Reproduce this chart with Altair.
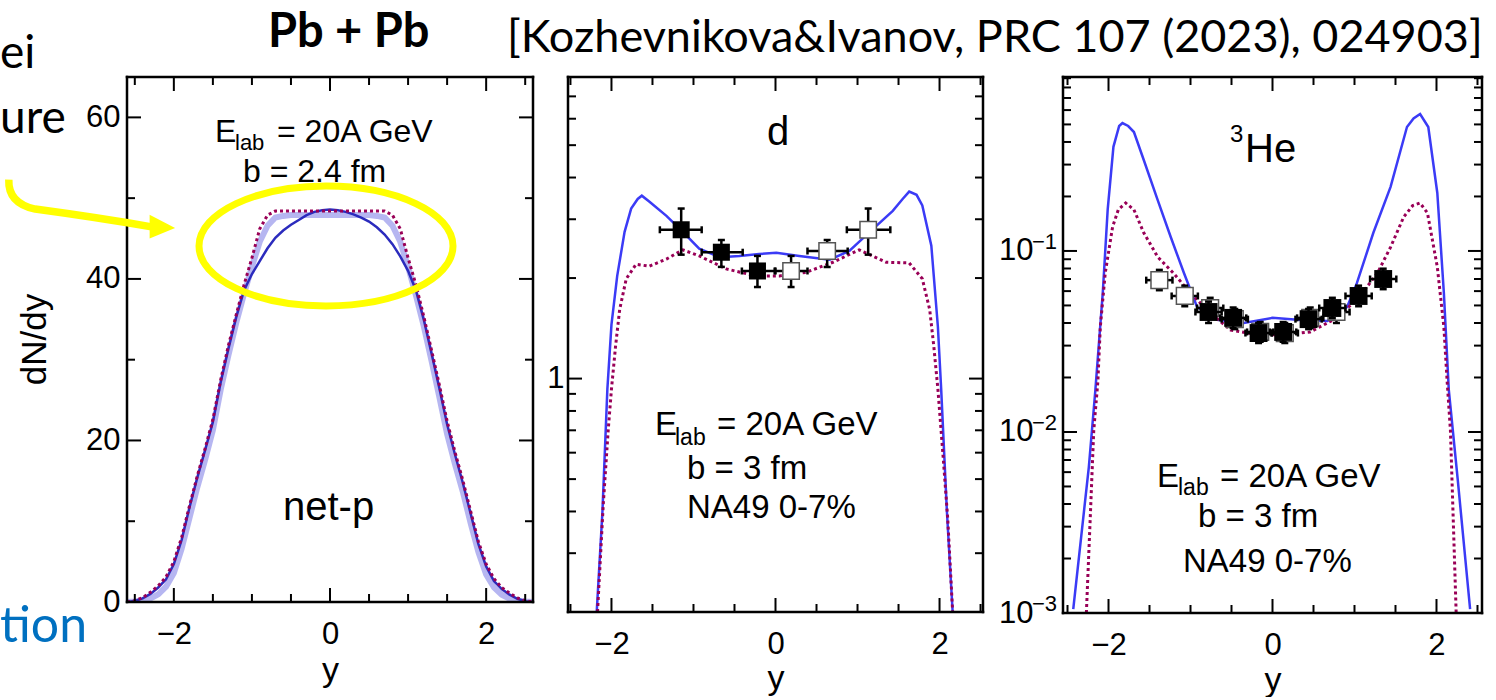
import altair as alt
import pandas as pd

FONT = "Liberation Sans"
SLIDE_FONT = "Lato"
BLUE_DARK = "#2b2bbd"
BLUE = "#3b3bf6"
PURPLE = "#990057"
BAND = "#a9a9ee"
YELLOW = "#ffff00"
SLIDE_BLUE = "#0070c0"

# ---------------- panel 1: net-p (linear) ----------------
p1_x = [-2.6, -2.5, -2.4, -2.3, -2.2, -2.1, -2.0, -1.9, -1.8, -1.7, -1.6, -1.5, -1.4, -1.3,
        -1.2, -1.1, -1.0, -0.9, -0.8, -0.7, -0.6, -0.5, -0.4, -0.3, -0.2, -0.1, 0.0,
        0.1, 0.2, 0.3, 0.4, 0.5, 0.6, 0.7, 0.8, 0.9, 1.0, 1.1, 1.2, 1.3, 1.4, 1.5, 1.6,
        1.7, 1.8, 1.9, 2.0, 2.1, 2.2, 2.3, 2.4, 2.5, 2.6]
p1_solid = [0.0, 0.12, 0.45, 1.0, 1.8, 2.8, 4.7, 7.7, 11.7, 15.4, 18.8, 22.3, 27.2, 31.4,
            35.3, 38.6, 40.6, 42.2, 43.8, 45.1, 46.0, 46.7, 47.3, 47.9, 48.3, 48.5, 48.6,
            48.5, 48.3, 48.0, 47.6, 47.1, 46.4, 45.5, 44.3, 42.8, 41.0, 38.6, 35.0, 30.8,
            26.5, 22.0, 18.3, 14.8, 11.0, 7.2, 4.4, 2.6, 1.6, 0.9, 0.4, 0.1, 0.0]
p1_dotted = [0.0, 0.15, 0.55, 1.2, 2.0, 3.1, 5.0, 8.0, 11.9, 15.6, 19.0, 22.6, 27.5, 31.8,
             35.6, 39.3, 42.6, 46.2, 47.9, 48.4, 48.4, 48.4, 48.4, 48.4, 48.4, 48.4, 48.4,
             48.4, 48.4, 48.4, 48.4, 48.4, 48.4, 48.4, 47.9, 46.2, 42.6, 39.3, 35.4, 31.2,
             26.9, 22.4, 18.6, 15.1, 11.3, 7.5, 4.7, 2.9, 1.8, 1.1, 0.5, 0.15, 0.0]
p1_band = [0.0, 0.05, 0.15, 0.45, 0.95, 1.9, 3.6, 6.6, 10.4, 14.2, 17.6, 21.3, 26.3, 30.6,
           34.6, 38.2, 41.5, 44.6, 46.6, 47.6, 47.8, 47.9, 47.9, 47.9, 47.9, 47.9, 47.9,
           47.9, 47.9, 47.9, 47.9, 47.9, 47.8, 47.6, 46.6, 44.6, 41.5, 38.0, 34.2, 29.9,
           25.4, 20.8, 17.1, 13.7, 9.8, 6.2, 3.4, 1.8, 0.9, 0.4, 0.15, 0.05, 0.0]

# ---------------- panel 2: d (log) ----------------
d_x = [-2.18, -2.11, -2.05, -2.00, -1.93, -1.84, -1.76, -1.68, -1.63, -1.54, -1.33, -1.13,
       -0.93, -0.68, -0.44, -0.20, 0.01, 0.29, 0.66, 0.90, 1.15, 1.43, 1.55, 1.63, 1.72,
       1.79, 1.90, 1.98, 2.02, 2.09, 2.16]
d_solid = [0.20, 0.40, 0.93, 1.45, 2.03, 2.75, 3.23, 3.45, 3.53, 3.39, 3.07, 2.75, 2.45,
           2.31, 2.33, 2.36, 2.38, 2.33, 2.27, 2.41, 2.75, 3.18, 3.45, 3.63, 3.55, 3.30,
           2.50, 1.43, 0.93, 0.40, 0.20]
d_dot_x = [-2.17, -2.10, -2.04, -2.00, -1.95, -1.90, -1.82, -1.70, -1.54, -1.33, -1.13,
           -0.93, -0.60, -0.24, 0.05, 0.37, 0.70, 1.02, 1.35, 1.63, 1.79, 1.88, 1.93, 1.98,
           2.04, 2.10, 2.16]
d_dotted = [0.20, 0.42, 0.70, 0.93, 1.25, 1.61, 1.99, 2.20, 2.17, 2.28, 2.43, 2.33, 2.13,
            2.03, 2.03, 2.08, 2.23, 2.43, 2.23, 2.22, 1.99, 1.61, 1.25, 0.93, 0.60, 0.38, 0.20]
d_fill_x = [-1.15, -0.66, -0.22]
d_fill_v = [2.79, 2.39, 2.10]
d_fill_lo = [2.35, 2.16, 1.88]
d_fill_hi = [3.23, 2.60, 2.33]
d_fill_xlo = [-1.41, -0.90, -0.41]
d_fill_xhi = [-0.90, -0.40, -0.01]
d_open_x = [0.19, 0.63, 1.13]
d_open_v = [2.10, 2.41, 2.79]
d_open_lo = [1.88, 2.16, 2.35]
d_open_hi = [2.33, 2.60, 3.23]
d_open_xlo = [0.00, 0.39, 0.87]
d_open_xhi = [0.39, 0.88, 1.40]

# ---------------- panel 3: 3He (log) ----------------
he_x = [-2.43, -2.24, -2.16, -2.07, -2.01, -1.94, -1.87, -1.83, -1.76, -1.69, -1.57, -1.40,
        -1.24, -1.08, -0.92, -0.67, -0.35, 0.00, 0.34, 0.67, 0.91, 1.03, 1.23, 1.44, 1.64,
        1.72, 1.80, 1.90, 2.01, 2.09, 2.15, 2.26, 2.41]
he_solid = [0.00105, 0.0064, 0.0171, 0.0586, 0.169, 0.376, 0.49, 0.509, 0.49, 0.454, 0.318,
            0.191, 0.119, 0.0755, 0.049, 0.0416, 0.040, 0.0427, 0.0416, 0.041, 0.049, 0.0666,
            0.126, 0.226, 0.484, 0.54, 0.571, 0.484, 0.209, 0.0586, 0.0171, 0.0054, 0.00105]
he_dot_x = [-2.27, -2.22, -2.18, -2.13, -2.10, -2.04, -1.95, -1.88, -1.79, -1.69, -1.57,
            -1.40, -1.21, -1.00, -0.76, -0.51, -0.18, 0.13, 0.46, 0.74, 1.03, 1.28, 1.44,
            1.60, 1.71, 1.80, 1.89, 2.01, 2.09, 2.13, 2.17, 2.24]
he_dotted = [0.001, 0.0036, 0.0102, 0.019, 0.038, 0.0755, 0.136, 0.169, 0.184, 0.169, 0.126,
             0.0927, 0.0755, 0.0586, 0.0454, 0.0366, 0.0344, 0.0344, 0.0357, 0.0416, 0.0536,
             0.0755, 0.105, 0.154, 0.178, 0.184, 0.162, 0.0816, 0.038, 0.019, 0.0102, 0.001]
he_fill_x = [-0.78, -0.48, -0.17, 0.13, 0.44, 0.73, 1.05, 1.35]
he_fill_v = [0.046, 0.0427, 0.0352, 0.0357, 0.042, 0.0484, 0.0564, 0.070]
he_fill_lo = [0.040, 0.0375, 0.031, 0.0315, 0.037, 0.0425, 0.0495, 0.0615]
he_fill_hi = [0.0525, 0.0487, 0.040, 0.0405, 0.0478, 0.0551, 0.0643, 0.0798]
he_open_x = [-1.38, -1.07, -0.76, -0.46, -0.15, 0.15, 0.46, 0.78]
he_open_v = [0.069, 0.0564, 0.0484, 0.042, 0.0357, 0.0352, 0.0427, 0.046]
he_open_lo = [0.0607, 0.0495, 0.0425, 0.037, 0.0315, 0.031, 0.0375, 0.040]
he_open_hi = [0.0786, 0.0643, 0.0551, 0.0478, 0.0405, 0.040, 0.0487, 0.0525]
HE_XERR = 0.16

# ---------------- ticks / labels ----------------
X_MAJOR = [-2, 0, 2]
X_MINOR = [-2.5, -1.5, -1.0, -0.5, 0.5, 1.0, 1.5, 2.5]
P1_Y_MAJOR = [0, 20, 40, 60]
P1_Y_MINOR = [10, 30, 50]
P2_Y_MAJOR = [1]
P2_Y_MINOR = [0.3, 0.4, 0.5, 0.6, 0.7, 0.8, 0.9, 2, 3, 4, 5, 6, 7]
P3_Y_LABELS = [0.001, 0.01, 0.1]
P3_Y_MAJOR = [0.01, 0.1]
P3_Y_MINOR = [0.002, 0.003, 0.004, 0.005, 0.006, 0.007, 0.008, 0.009,
              0.02, 0.03, 0.04, 0.05, 0.06, 0.07, 0.08, 0.09,
              0.2, 0.3, 0.4, 0.5, 0.6, 0.7, 0.8, 0.9]
P3_EXPONENTS = ["\u22121", "\u22122", "\u22123"]
P3_EXP_AT = [0.1, 0.01, 0.001]

TITLE_MAIN = "Pb + Pb"
CITATION = "[Kozhevnikova&Ivanov, PRC 107 (2023), 024903]"
SIDE_WORDS = ["ei", "ure", "tion"]

ONE = pd.DataFrame({"k": [0]})

ELLIPSE = ("M 1 0 C 1 0.2607 0.5523 0.472 0 0.472 C -0.5523 0.472 -1 0.2607 -1 0 "
           "C -1 -0.2607 -0.5523 -0.472 0 -0.472 C 0.5523 -0.472 1 -0.2607 1 0 Z")
ARROW_BODY = "M -0.90 -0.30 Q -0.91 -0.03 -0.6 0.035 Q 0.1 0.13 0.74 0.24"
ARROW_HEAD = "M 0.70 0.10 L 0.99 0.25 L 0.70 0.37 Z"


class Enc:
    """Encoders sharing one scale + one axis per panel."""

    def __init__(self, xs, ys, xaxis, yaxis):
        self.xs, self.ys, self.xaxis, self.yaxis = xs, ys, xaxis, yaxis

    def X(self, f):
        return alt.X(f, scale=self.xs, axis=self.xaxis)

    def Y(self, f):
        return alt.Y(f, scale=self.ys, axis=self.yaxis)


def curve(e, x, v, color, width, dash=None, opacity=1.0):
    df = pd.DataFrame({"x": x, "v": v})
    kw = dict(color=color, strokeWidth=width, clip=True, opacity=opacity)
    if dash is not None:
        kw["strokeDash"] = dash
    return alt.Chart(df).mark_line(**kw).encode(x=e.X("x:Q"), y=e.Y("v:Q"))


def xticks(e, vals, length, H):
    df = pd.DataFrame({"x": vals})
    base = alt.Chart(df).mark_rule(color="black", strokeWidth=2)
    return [base.encode(x=e.X("x:Q"), y=alt.value(0), y2=alt.value(length)),
            base.encode(x=e.X("x:Q"), y=alt.value(H), y2=alt.value(H - length))]


def yticks(e, vals, length, W):
    df = pd.DataFrame({"v": vals})
    base = alt.Chart(df).mark_rule(color="black", strokeWidth=2)
    return [base.encode(y=e.Y("v:Q"), x=alt.value(0), x2=alt.value(length)),
            base.encode(y=e.Y("v:Q"), x=alt.value(W), x2=alt.value(W - length))]


def frame(W, H):
    base = alt.Chart(ONE).mark_rule(color="black", strokeWidth=2.5, strokeCap="square")
    return [base.encode(x=alt.value(0), x2=alt.value(W), y=alt.value(0)),
            base.encode(x=alt.value(0), x2=alt.value(W), y=alt.value(H)),
            base.encode(x=alt.value(0), y=alt.value(0), y2=alt.value(H)),
            base.encode(x=alt.value(W), y=alt.value(0), y2=alt.value(H))]


def text(s, x, y, size, font=FONT, weight="normal", color="black", align="left"):
    return alt.Chart(ONE).mark_text(
        text=s, align=align, baseline="alphabetic", fontSize=size, font=font,
        fontWeight=weight, color=color,
    ).encode(x=alt.value(x), y=alt.value(y))


def data_points(e, x, v, lo, hi, xlo, xhi, filled, size):
    df = pd.DataFrame({"x": x, "v": v, "lo": lo, "hi": hi, "xlo": xlo, "xhi": xhi})
    c = alt.Chart(df)
    tick = dict(size=7, thickness=2.5, color="black", opacity=1)
    layers = [
        c.mark_rule(color="black", strokeWidth=2.5).encode(x=e.X("x:Q"), y=e.Y("lo:Q"), y2="hi:Q"),
        c.mark_rule(color="black", strokeWidth=2.5).encode(x=e.X("xlo:Q"), x2="xhi:Q", y=e.Y("v:Q")),
        c.mark_tick(orient="horizontal", **tick).encode(x=e.X("x:Q"), y=e.Y("lo:Q")),
        c.mark_tick(orient="horizontal", **tick).encode(x=e.X("x:Q"), y=e.Y("hi:Q")),
        c.mark_tick(orient="vertical", **tick).encode(x=e.X("xlo:Q"), y=e.Y("v:Q")),
        c.mark_tick(orient="vertical", **tick).encode(x=e.X("xhi:Q"), y=e.Y("v:Q")),
    ]
    if filled:
        layers.append(c.mark_square(size=size, color="black", opacity=1).encode(
            x=e.X("x:Q"), y=e.Y("v:Q")))
    else:
        layers.append(c.mark_square(size=size, fill="white", stroke="#555555",
                                    strokeWidth=1.5, opacity=1).encode(
            x=e.X("x:Q"), y=e.Y("v:Q")))
    return layers


def x_axis(title_y):
    return alt.Axis(values=X_MAJOR, ticks=False, tickSize=0, domain=False, grid=False,
                    labelFontSize=31, labelPadding=41, labelBaseline="alphabetic",
                    title="y", titleFontSize=34, titleFontWeight="normal",
                    titleBaseline="alphabetic", titleY=title_y)


# ================= panel 1 =================
W1, H1 = 406, 525
e1 = Enc(
    alt.Scale(domain=[-2.6, 2.6], nice=False, zero=False),
    alt.Scale(domain=[0, 65], nice=False),
    x_axis(78),
    alt.Axis(values=P1_Y_MAJOR, ticks=False, tickSize=0, domain=False, grid=False,
             labelFontSize=31, labelPadding=7, format="d",
             title="dN/dy", titleFontSize=35, titleFontWeight="normal",
             titleX=-75, titleY=262),
)

p1_layers = [
    curve(e1, p1_x, p1_band, BAND, 6, opacity=0.85),
    curve(e1, p1_x, p1_solid, BLUE_DARK, 2.5),
    curve(e1, p1_x, p1_dotted, PURPLE, 3, dash=[3, 3]),
]
p1_layers += xticks(e1, X_MAJOR, 14, H1) + xticks(e1, X_MINOR, 8, H1)
p1_layers += yticks(e1, P1_Y_MAJOR, 14, W1) + yticks(e1, P1_Y_MINOR, 8, W1)
p1_layers += frame(W1, H1)
p1_layers += [
    text("E", 88, 65, 32),
    text("lab", 108, 73, 22),
    text("= 20A GeV", 150, 65, 32),
    text("b = 2.4 fm", 116, 105, 32),
    text("net-p", 156, 443, 40),
    alt.Chart(ONE).mark_point(shape=ELLIPSE, size=64516, filled=False, stroke=YELLOW,
                              strokeWidth=7, strokeJoin="round", opacity=1).encode(
        x=alt.value(199), y=alt.value(169)),
    alt.Chart(ONE).mark_point(shape=ARROW_BODY, size=30976, filled=False, stroke=YELLOW,
                              strokeWidth=7.5, strokeJoin="round", strokeCap="butt",
                              opacity=1).encode(x=alt.value(-39), y=alt.value(129)),
    alt.Chart(ONE).mark_point(shape=ARROW_HEAD, size=30976, filled=True, color=YELLOW,
                              opacity=1).encode(x=alt.value(-39), y=alt.value(129)),
    text(TITLE_MAIN, 141, -30, 47, font=SLIDE_FONT, weight="bold"),
    text(CITATION, 380, -25, 45, font=SLIDE_FONT),
    text(SIDE_WORDS[0], -127, -9, 46, font=SLIDE_FONT),
    text(SIDE_WORDS[1], -127, 56, 46, font=SLIDE_FONT),
    text(SIDE_WORDS[2], -127, 565, 50, font=SLIDE_FONT, color=SLIDE_BLUE),
    alt.Chart(ONE).mark_point(size=1, filled=True, color="white", opacity=1).encode(
        x=alt.value(-126.5), y=alt.value(-76.5)),
]
p1 = alt.layer(*p1_layers).properties(width=W1, height=H1)

# ================= panel 2 =================
W2, H2, LAY2 = 415, 535, 460
e2 = Enc(
    alt.Scale(domain=[-2.53, 2.53], range=[0, W2], nice=False, zero=False),
    alt.Scale(type="log", domain=[0.2, 8], nice=False),
    x_axis(76),
    alt.Axis(values=P2_Y_MAJOR, ticks=False, tickSize=0, domain=False, grid=False,
             labelFontSize=31, labelPadding=4, format="~g", title=""),
)

p2_layers = [
    curve(e2, d_x, d_solid, BLUE, 2.5),
    curve(e2, d_dot_x, d_dotted, PURPLE, 3, dash=[3, 3]),
]
p2_layers += data_points(e2, d_open_x, d_open_v, d_open_lo, d_open_hi, d_open_xlo,
                         d_open_xhi, False, 270)
p2_layers += data_points(e2, d_fill_x, d_fill_v, d_fill_lo, d_fill_hi, d_fill_xlo,
                         d_fill_xhi, True, 290)
p2_layers += xticks(e2, X_MAJOR, 14, H2) + xticks(e2, X_MINOR, 8, H2)
p2_layers += yticks(e2, P2_Y_MAJOR, 14, W2) + yticks(e2, P2_Y_MINOR, 8, W2)
p2_layers += frame(W2, H2)
p2_layers += [
    text("d", 210, 68, 40, align="center"),
    text("E", 87, 358, 33),
    text("lab", 107, 368, 23),
    text("= 20A GeV", 149, 358, 33),
    text("b = 3 fm", 119, 402, 33),
    text("NA49 0-7%", 119, 441, 33),
]
p2 = alt.layer(*p2_layers).properties(width=LAY2, height=H2)

# ================= panel 3 =================
W3, H3 = 419, 536
e3 = Enc(
    alt.Scale(domain=[-2.555, 2.555], nice=False, zero=False),
    alt.Scale(type="log", domain=[0.001, 0.914], nice=False),
    x_axis(77),
    alt.Axis(values=P3_Y_LABELS, ticks=False, tickSize=0, domain=False, grid=False,
             labelFontSize=31, labelPadding=30, labelExpr="'10'", title=""),
)

he_open_xlo = [v - HE_XERR for v in he_open_x]
he_open_xhi = [v + HE_XERR for v in he_open_x]
he_fill_xlo = [v - HE_XERR for v in he_fill_x]
he_fill_xhi = [v + HE_XERR for v in he_fill_x]

p3_layers = [
    curve(e3, he_x, he_solid, BLUE, 2.5),
    curve(e3, he_dot_x, he_dotted, PURPLE, 3, dash=[3, 3]),
]
p3_layers += data_points(e3, he_open_x, he_open_v, he_open_lo, he_open_hi, he_open_xlo,
                         he_open_xhi, False, 280)
p3_layers += data_points(e3, he_fill_x, he_fill_v, he_fill_lo, he_fill_hi, he_fill_xlo,
                         he_fill_xhi, True, 320)
p3_layers += xticks(e3, X_MAJOR, 14, H3) + xticks(e3, X_MINOR, 8, H3)
p3_layers += yticks(e3, P3_Y_MAJOR, 14, W3) + yticks(e3, P3_Y_MINOR, 8, W3)
p3_layers += frame(W3, H3)
p3_layers += [
    alt.Chart(pd.DataFrame({"v": P3_EXP_AT, "t": P3_EXPONENTS})).mark_text(
        align="right", baseline="middle", dy=-9, fontSize=22, font=FONT, color="black"
    ).encode(y=e3.Y("v:Q"), x=alt.value(-6), text="t:N"),
    text("3", 167, 65, 24),
    text("He", 182, 85, 40),
    text("E", 94, 410, 33),
    text("lab", 115, 418, 23),
    text("= 20A GeV", 157, 410, 33),
    text("b = 3 fm", 135, 450, 33),
    text("NA49 0-7%", 120, 495, 33),
]
p3 = alt.layer(*p3_layers).properties(width=W3, height=H3)

chart = alt.hconcat(p1, p2, p3, spacing=35, bounds="flush").properties(
    padding={"left": 0, "top": 0, "right": 0, "bottom": 0}
).configure_view(strokeWidth=0).configure_axis(
    labelColor="black", titleColor="black", labelFont=FONT, titleFont=FONT
)

chart.save("out.html", embed_options={"renderer": "svg", "actions": False})
